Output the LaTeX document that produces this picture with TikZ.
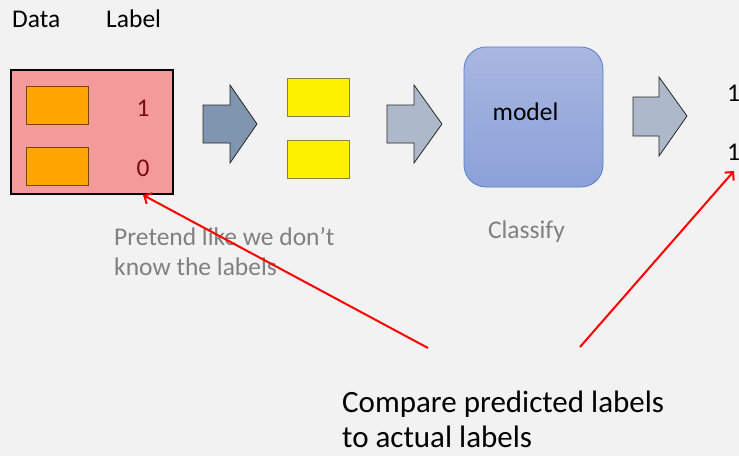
\documentclass[tikz,border=0pt]{standalone}
\usepackage{fontspec}
\setmainfont{Carlito}
\usetikzlibrary{arrows.meta}
\definecolor{bg}{HTML}{F2F2F2}
\definecolor{pinkfill}{HTML}{F59A9A}
\definecolor{orangefill}{HTML}{FFA500}
\definecolor{darkred}{HTML}{7A0A0A}
\definecolor{slatedark}{HTML}{8096B0}
\definecolor{slatelight}{HTML}{ADB9CA}
\definecolor{modeltop}{HTML}{A9B7E0}
\definecolor{modelbot}{HTML}{8BA1D8}
\definecolor{modelline}{HTML}{5B7FCB}
\definecolor{greytext}{HTML}{808080}
\tikzset{
  txt/.style={inner sep=0pt, anchor=base west, font=\fontsize{25.5}{30}\selectfont},
  graytxt/.style={txt, text=greytext},
  bigtxt/.style={txt, font=\fontsize{31}{35}\selectfont},
  smallbox/.style={draw=#1!45!black, line width=0.8pt, minimum width=62pt, minimum height=38pt, inner sep=0pt},
  blockarrow/.style={draw=black!85, line width=0.8pt, fill=#1},
  redarrow/.style={draw=red, line width=2pt, -{Straight Barb[length=6pt,width=12pt,line width=2pt]}},
}
\begin{document}
\begin{tikzpicture}[x=1pt,y=-1pt]
  \fill[bg] (0,0) rectangle (739,456);
  \useasboundingbox (0,0) rectangle (739,456);

  % column headings
  \node[txt] (hdata) at (12,27.5) {Data};
  \node[txt] (hlabel) at (106,27.5) {Label};

  % labelled data
  \node[draw=black, line width=1.8pt, fill=pinkfill, minimum width=162pt, minimum height=124pt, inner sep=0pt] (data) at (92,132) {};
  \node[smallbox=orangefill, fill=orangefill] (d1) at (57,105) {};
  \node[smallbox=orangefill, fill=orangefill] (d2) at (57,166) {};
  \node[txt, anchor=base, text=darkred] (l1) at (143,116) {1};
  \node[txt, anchor=base, text=darkred] (l0) at (143,176) {0};

  % first block arrow
  \draw[blockarrow=slatedark] (203,105) -- (230,105) -- (230,85) -- (257,124) -- (230,163) -- (230,143) -- (203,143) -- cycle;

  % unlabelled data
  \node[smallbox=yellow, fill=yellow] (u1) at (318,97.5) {};
  \node[smallbox=yellow, fill=yellow] (u2) at (318,159) {};

  % second block arrow
  \draw[blockarrow=slatelight] (387,105) -- (414,105) -- (414,85) -- (442,124) -- (414,163) -- (414,143) -- (387,143) -- cycle;

  % model
  \node[draw=modelline, line width=0.8pt, rounded corners=22pt, top color=modeltop, bottom color=modelbot, minimum width=139pt, minimum height=140pt, inner sep=0pt] (model) at (533.5,117) {};
  \node[txt, anchor=base] (mtext) at (525.5,120) {model};
  \node[graytxt, anchor=base] (classify) at (526.5,238) {Classify};

  % third block arrow
  \draw[blockarrow=slatelight] (633,97) -- (659,97) -- (659,77) -- (687,116) -- (659,156) -- (659,136) -- (633,136) -- cycle;

  % predicted labels
  \node[txt] (p1) at (727,101) {1};
  \node[txt] (p2) at (727,160) {1};

  % captions
  \node[graytxt] (pretend1) at (114,245) {Pretend like we don't};
  \node[graytxt] (pretend2) at (114,275) {know the labels};
  \node[bigtxt] (compare1) at (342,412) {Compare predicted labels};
  \node[bigtxt] (compare2) at (342,447) {to actual labels};

  % comparison arrows
  \coordinate (c1) at (428,348);
  \coordinate (c2) at (580,347);
  \coordinate (t1) at (143,195);
  \coordinate (t2) at (734,171);
  \draw[redarrow] (c1) -- (t1);
  \draw[redarrow] (c2) -- (t2);
\end{tikzpicture}
\end{document}
